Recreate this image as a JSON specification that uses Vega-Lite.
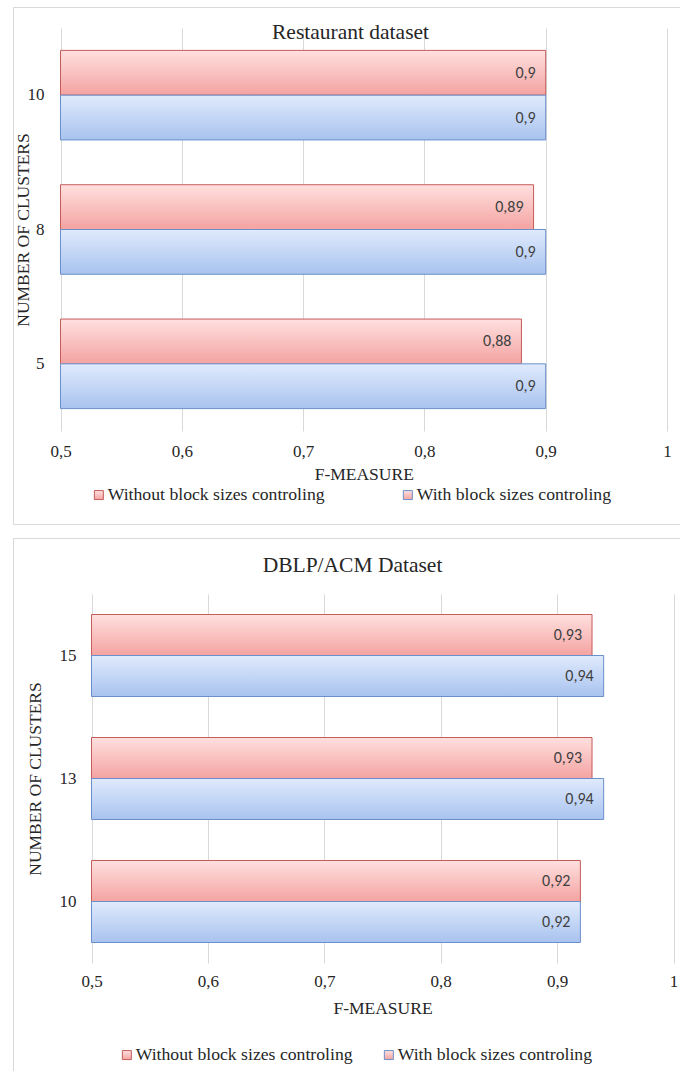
{
  "$schema": "https://vega.github.io/schema/vega-lite/v6.json",
  "background": "white",
  "padding": {"left": 12, "top": 6, "right": -3, "bottom": 0},
  "spacing": 12,
  "config": {
    "locale": {"number": {"decimal": ",", "thousands": ".", "grouping": [3], "currency": ["", " €"]}},
    "view": {"stroke": "#D9D9D9", "strokeWidth": 1},
    "font": "Liberation Serif",
    "axis": {
      "labelFont": "Liberation Serif", "titleFont": "Liberation Serif",
      "labelFontSize": 17, "titleFontSize": 17.5,
      "labelColor": "#262626", "titleColor": "#262626", "titleFontWeight": "normal",
      "gridColor": "#D9D9D9", "gridWidth": 1, "domain": false, "ticks": false
    },
    "title": {"font": "Liberation Serif", "fontSize": 21.5, "fontWeight": "normal", "color": "#262626", "anchor": "middle", "frame": "group"}
  },
  "datasets": {
    "scores": [
      {"panel": "Restaurant", "clusters": "10", "series": "Without block sizes controling", "value": 0.9},
      {"panel": "Restaurant", "clusters": "10", "series": "With block sizes controling", "value": 0.9},
      {"panel": "Restaurant", "clusters": "8", "series": "Without block sizes controling", "value": 0.89},
      {"panel": "Restaurant", "clusters": "8", "series": "With block sizes controling", "value": 0.9},
      {"panel": "Restaurant", "clusters": "5", "series": "Without block sizes controling", "value": 0.88},
      {"panel": "Restaurant", "clusters": "5", "series": "With block sizes controling", "value": 0.9},
      {"panel": "DBLP", "clusters": "15", "series": "Without block sizes controling", "value": 0.93},
      {"panel": "DBLP", "clusters": "15", "series": "With block sizes controling", "value": 0.94},
      {"panel": "DBLP", "clusters": "13", "series": "Without block sizes controling", "value": 0.93},
      {"panel": "DBLP", "clusters": "13", "series": "With block sizes controling", "value": 0.94},
      {"panel": "DBLP", "clusters": "10", "series": "Without block sizes controling", "value": 0.92},
      {"panel": "DBLP", "clusters": "10", "series": "With block sizes controling", "value": 0.92}
    ]
  },
  "data": {"name": "scores"},
  "resolve": {
    "scale": {"x": "independent", "y": "independent", "yOffset": "independent", "stroke": "independent"},
    "axis": {"x": "independent", "y": "independent"},
    "legend": {"stroke": "independent"}
  },
  "vconcat": [
    {
      "width": 670,
      "height": 517,
      "title": {"text": "Restaurant dataset", "offset": -47, "baseline": "middle", "dx": 2.5},
      "transform": [{"filter": "datum.panel === 'Restaurant'"}],
      "encoding": {
        "y": {
          "field": "clusters", "type": "nominal", "sort": ["10", "8", "5"],
          "scale": {"range": [21, 424], "paddingInner": 0, "paddingOuter": 0},
          "axis": {"offset": -47.5, "labelPadding": 16.5, "title": "NUMBER OF CLUSTERS", "titlePadding": -5.5}
        },
        "yOffset": {
          "field": "series", "type": "nominal",
          "sort": ["Without block sizes controling", "With block sizes controling"],
          "scale": {"paddingInner": 0, "paddingOuter": 0.5}
        },
        "x": {
          "field": "value", "type": "quantitative",
          "scale": {"domain": [0.5, 1], "range": [47.5, 654], "zero": false, "nice": false},
          "axis": {
            "orient": "top", "offset": -424, "values": [0.5, 0.6, 0.7, 0.8, 0.9, 1], "format": ".1~f",
            "labelPadding": -20, "labelBaseline": "middle", "labelFlush": false,
            "title": "F-MEASURE", "titleY": 43, "titleBaseline": "middle", "grid": true
          }
        }
      },
      "layer": [
        {
          "mark": {"type": "bar", "strokeWidth": 1},
          "encoding": {
            "x2": {"datum": 0.5},
            "fill": {
              "condition": {
                "test": "datum.series === 'With block sizes controling'",
                "value": {"gradient": "linear", "x1": 0, "y1": 0, "x2": 0, "y2": 1, "stops": [{"offset": 0, "color": "#E0EAFC"}, {"offset": 1, "color": "#A8C3EF"}]}
              },
              "value": {"gradient": "linear", "x1": 0, "y1": 0, "x2": 0, "y2": 1, "stops": [{"offset": 0, "color": "#FEE0DF"}, {"offset": 1, "color": "#F4A3A1"}]}
            },
            "stroke": {
              "field": "series", "type": "nominal",
              "sort": ["Without block sizes controling", "With block sizes controling"],
              "scale": {"range": ["#C45C5A", "#6A8FCB"]},
              "legend": {
                "title": null, "orient": "none", "legendX": 77, "legendY": 479,
                "direction": "horizontal", "symbolType": "square", "symbolSize": 81, "symbolStrokeWidth": 1,
                "labelFont": "Liberation Serif", "labelFontSize": 17.7, "labelColor": "#262626",
                "labelOffset": 0, "columnPadding": 74, "labelLimit": 0,
                "encode": {"symbols": {"update": {"fill": {"signal": "datum.value === 'With block sizes controling' ? '#BFD3F5' : '#F7BFBE'"}}}}
              }
            }
          }
        },
        {
          "mark": {"type": "text", "align": "right", "dx": -10, "baseline": "middle", "font": "Carlito, Lato, sans-serif", "fontSize": 16, "color": "#404040"},
          "encoding": {"text": {"field": "value", "type": "quantitative", "format": "~g"}}
        }
      ]
    },
    {
      "width": 670,
      "height": 533,
      "title": {"text": "DBLP/ACM Dataset", "offset": -49, "baseline": "middle", "dx": 4.5},
      "transform": [{"filter": "datum.panel === 'DBLP'"}],
      "encoding": {
        "y": {
          "field": "clusters", "type": "nominal", "sort": ["15", "13", "10"],
          "scale": {"range": [56, 425], "paddingInner": 0, "paddingOuter": 0},
          "axis": {"offset": -78.5, "labelPadding": 15.5, "title": "NUMBER OF CLUSTERS", "titlePadding": 15}
        },
        "yOffset": {
          "field": "series", "type": "nominal",
          "sort": ["Without block sizes controling", "With block sizes controling"],
          "scale": {"paddingInner": 0, "paddingOuter": 0.5}
        },
        "x": {
          "field": "value", "type": "quantitative",
          "scale": {"domain": [0.5, 1], "range": [78.5, 660.5], "zero": false, "nice": false},
          "axis": {
            "orient": "top", "offset": -425, "values": [0.5, 0.6, 0.7, 0.8, 0.9, 1], "format": ".1~f",
            "labelPadding": -18, "labelBaseline": "middle", "labelFlush": false,
            "title": "F-MEASURE", "titleY": 45, "titleBaseline": "middle", "grid": true
          }
        }
      },
      "layer": [
        {
          "mark": {"type": "bar", "strokeWidth": 1},
          "encoding": {
            "x2": {"datum": 0.5},
            "fill": {
              "condition": {
                "test": "datum.series === 'With block sizes controling'",
                "value": {"gradient": "linear", "x1": 0, "y1": 0, "x2": 0, "y2": 1, "stops": [{"offset": 0, "color": "#E0EAFC"}, {"offset": 1, "color": "#A8C3EF"}]}
              },
              "value": {"gradient": "linear", "x1": 0, "y1": 0, "x2": 0, "y2": 1, "stops": [{"offset": 0, "color": "#FEE0DF"}, {"offset": 1, "color": "#F4A3A1"}]}
            },
            "stroke": {
              "field": "series", "type": "nominal",
              "sort": ["Without block sizes controling", "With block sizes controling"],
              "scale": {"range": ["#C45C5A", "#6A8FCB"]},
              "legend": {
                "title": null, "orient": "none", "legendX": 105, "legendY": 508,
                "direction": "horizontal", "symbolType": "square", "symbolSize": 81, "symbolStrokeWidth": 1,
                "labelFont": "Liberation Serif", "labelFontSize": 17.7, "labelColor": "#262626",
                "labelOffset": 0, "columnPadding": 27, "labelLimit": 0,
                "encode": {"symbols": {"update": {"fill": {"signal": "datum.value === 'With block sizes controling' ? '#BFD3F5' : '#F7BFBE'"}}}}
              }
            }
          }
        },
        {
          "mark": {"type": "text", "align": "right", "dx": -10, "baseline": "middle", "font": "Carlito, Lato, sans-serif", "fontSize": 16, "color": "#404040"},
          "encoding": {"text": {"field": "value", "type": "quantitative", "format": "~g"}}
        }
      ]
    }
  ]
}
